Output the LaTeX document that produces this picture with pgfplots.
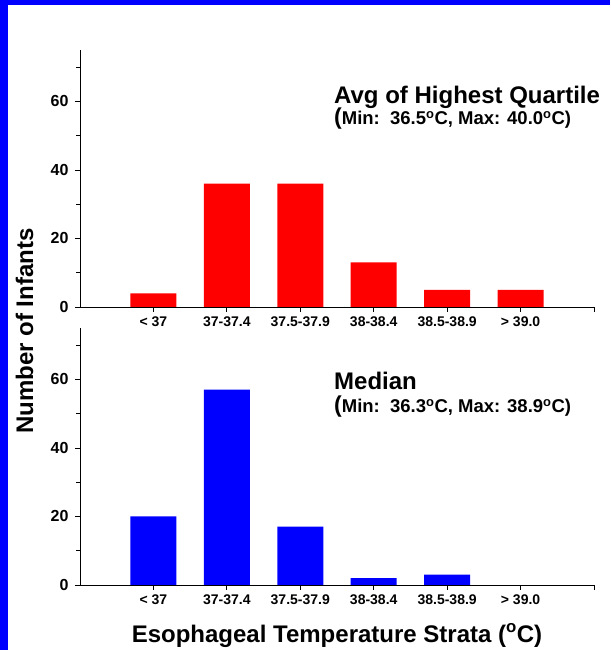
\documentclass[border=0pt]{standalone}
\usepackage{pgfplots}
\pgfplotsset{compat=1.18}
\usepackage{fontspec}
\setmainfont{Liberation Sans}
\definecolor{pblue}{RGB}{0,0,255}
\definecolor{pred}{RGB}{255,0,0}

\pgfplotsset{
  panel/.style={
    scale only axis, width=514pt, height=257pt,
    xmin=-1, xmax=6, ymin=0, ymax=75,
    axis x line*=bottom, axis y line*=left,
    xtick={0,1,2,3,4,5,6},
    xticklabels={{< 37},{37-37.4},{37.5-37.9},{38-38.4},{38.5-38.9},{> 39.0},{}},
    ytick={0,20,40,60}, minor ytick={10,30,50,70},
    tick align=outside, major tick length=5pt, minor tick length=4pt,
    tick style={black, line width=0.8pt},
    axis line style={black, line width=0.8pt},
    x tick label style={font=\bfseries\fontsize{14}{16}\selectfont, yshift=-1pt},
    y tick label style={font=\bfseries\fontsize{16}{18}\selectfont, xshift=-3pt},
    /pgf/number format/assume math mode=true,
    ybar, bar width=46pt,
    clip=false,
  }
}

\begin{document}
\begin{tikzpicture}
\path[use as bounding box] (0pt,0pt) rectangle (610pt,650pt);
\fill[white] (0pt,0pt) rectangle (610pt,650pt);
\fill[pblue] (0pt,0pt) rectangle (8pt,650pt);
\fill[pblue] (0pt,645pt) rectangle (610pt,650pt);

\begin{axis}[panel, at={(80pt,343pt)}, anchor=south west]
\addplot[fill=pred, draw=none] coordinates {(0,4) (1,36) (2,36) (3,13) (4,5) (5,5)};
\end{axis}

\begin{axis}[panel, at={(80pt,65pt)}, anchor=south west]
\addplot[fill=pblue, draw=none] coordinates {(0,20) (1,57) (2,17) (3,2) (4,3)};
\end{axis}

\node[anchor=base west, inner sep=0pt, font=\bfseries\fontsize{24}{28}\selectfont] at (334pt,546pt) {Avg of Highest Quartile};
\node[anchor=base west, inner sep=0pt, font=\bfseries\fontsize{18.5}{22}\selectfont] at (334pt,525pt) {{\fontsize{23}{28}\selectfont(}Min:\ \ 36.5\textsuperscript{o}C, Max: 40.0\textsuperscript{o}C)};

\node[anchor=base west, inner sep=0pt, font=\bfseries\fontsize{24}{28}\selectfont] at (334pt,260pt) {Median};
\node[anchor=base west, inner sep=0pt, font=\bfseries\fontsize{18.5}{22}\selectfont] at (334pt,237pt) {{\fontsize{23}{28}\selectfont(}Min:\ \ 36.3\textsuperscript{o}C, Max: 38.9\textsuperscript{o}C)};

\node[rotate=90, anchor=base, inner sep=0pt, font=\bfseries\fontsize{24}{28}\selectfont] at (33pt,319pt) {Number of Infants};
\node[anchor=base, inner sep=0pt, font=\bfseries\fontsize{24}{28}\selectfont] at (337pt,8pt) {Esophageal Temperature Strata (\textsuperscript{o}C)};
\end{tikzpicture}
\end{document}
